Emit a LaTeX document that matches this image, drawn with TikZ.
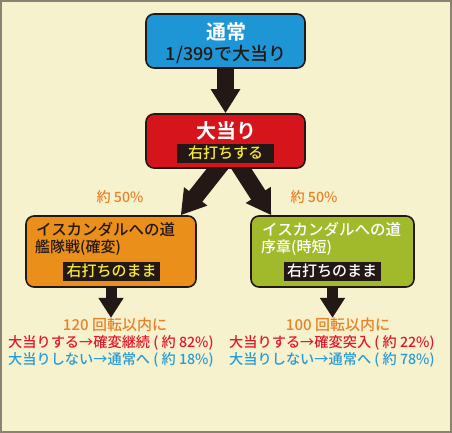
\documentclass[tikz,border=0pt]{standalone}
\usepackage{fontspec}
\newfontfamily\cjk{Noto Sans CJK JP Medium}[BoldFont={Noto Sans CJK JP Bold}]
\usetikzlibrary{positioning, arrows.meta, backgrounds}
\definecolor{paper}{HTML}{F5F2CD}
\definecolor{frame}{HTML}{8C8273}
\definecolor{ink}{HTML}{231815}
\definecolor{normalblue}{HTML}{1E95D4}
\definecolor{hitred}{HTML}{D6141B}
\definecolor{rushorange}{HTML}{E98F1A}
\definecolor{jitangreen}{HTML}{A0BA2B}
\definecolor{textorange}{HTML}{E8822A}
\definecolor{textred}{HTML}{E2182B}
\definecolor{textblue}{HTML}{2A9BD2}
\definecolor{labelyellow}{HTML}{F5E83A}
\newcommand{\jp}[1]{\cjk\fontsize{#1}{#1}\selectfont}
\tikzset{
	box/.style={
		rectangle,
		draw=ink,
		line width=1.6pt,
		rounded corners=8pt,
		minimum width=159pt,
		minimum height=54pt,
		inner sep=0pt,
	},
	wide box/.style={
		box,
		minimum width=170pt,
		minimum height=71pt,
	},
	tag/.style={
		fill=ink,
		inner sep=0pt,
		minimum height=19pt,
		minimum width=97pt,
		font=\jp{15},
	},
	bigarrow/.style={
		draw=ink,
		line width=17pt,
		-{Triangle[width=28pt,length=24pt]},
	},
	smallarrow/.style={
		draw=ink,
		line width=11pt,
		-{Triangle[width=24pt,length=20pt]},
	},
	note/.style={
		font=\jp{14.2},
		inner sep=0pt,
	},
}
\begin{document}
\begin{tikzpicture}[x=1pt, y=-1pt]
	\useasboundingbox (0,0) rectangle (452,433);
	\begin{scope}[on background layer]
		\fill [paper] (0,0) rectangle (452,433);
		\draw [frame, line width=2pt] (1,1) rectangle (451,432);
	\end{scope}

	% main states
	\node [box, fill=normalblue] (normal) at (225.5,41) {};
	\node [font=\jp{20}\bfseries, text=white] (normaltitle) at (226,32) {通常};
	\node [font=\jp{18}, text=ink] (normalodds) at (226,55) {1/399で大当り};

	\node [box, fill=hitred] (hit) at (225.5,141) {};
	\node [font=\jp{20}\bfseries, text=white] (hittitle) at (226,131) {大当り};
	\node [tag, text=labelyellow] (hittag) at (225.5,153) {右打ちする};

	% branches
	\node [wide box, fill=rushorange] (rush) at (111,251.5) {};
	\node [font=\jp{15.5}, text=ink, anchor=west, inner sep=0pt] (rushname) at (36,229) {イスカンダルへの道};
	\node [font=\jp{15}, text=ink, anchor=west, inner sep=0pt] (rushmode) at (35,248) {艦隊戦(確変)};
	\node [tag, text=labelyellow] (rushtag) at (111.5,271) {右打ちのまま};

	\node [box, fill=jitangreen, minimum width=163pt, minimum height=71pt] (jitan) at (332.5,251.5) {};
	\node [font=\jp{15.5}, text=white, anchor=west, inner sep=0pt] (jitanname) at (262,229) {イスカンダルへの道};
	\node [font=\jp{15}, text=white, anchor=west, inner sep=0pt] (jitanmode) at (261,248) {序章(時短)};
	\node [tag, text=white] (jitantag) at (332,271) {右打ちのまま};

	\node [note, text=textorange] (leftrate) at (120,197) {約 50\%};
	\node [note, text=textorange] (rightrate) at (314,197) {約 50\%};

	% results
	\node [note, text=textorange, font=\jp{15}] (rushcount) at (115,325) {120 回転以内に};
	\node [note, text=textred, anchor=west] (rushwin) at (8,343) {大当りする→確変継続 ( 約 82\%)};
	\node [note, text=textblue, anchor=west] (rushlose) at (8,360) {大当りしない→通常へ ( 約 18\%)};

	\node [note, text=textorange, font=\jp{15}] (jitancount) at (338,325) {100 回転以内に};
	\node [note, text=textred, anchor=west] (jitanwin) at (229,343) {大当りする→確変突入 ( 約 22\%)};
	\node [note, text=textblue, anchor=west] (jitanlose) at (229,360) {大当りしない→通常へ ( 約 78\%)};

	\begin{scope}[on background layer]
		\draw [bigarrow] (normal.center) -- (hit.north);
		\draw [bigarrow] ([xshift=14pt]hit.center) -- ([xshift=-16pt]rush.north east);
		\draw [bigarrow] ([xshift=-2pt]hit.center) -- ([xshift=21pt]jitan.north west);
		\draw [smallarrow] (rush.center) -- (rush.center |- rushcount.north);
		\draw [smallarrow] (jitan.center) -- (jitan.center |- jitancount.north);
	\end{scope}
\end{tikzpicture}
\end{document}
